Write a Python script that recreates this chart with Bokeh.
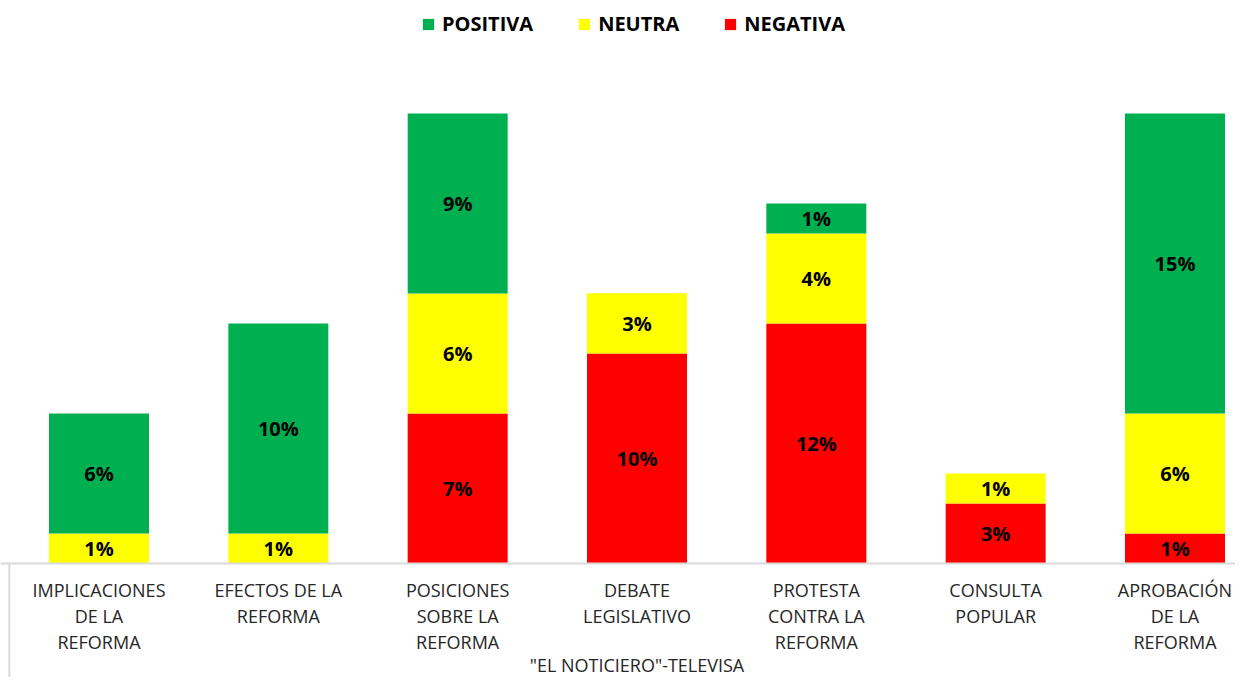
from bokeh.plotting import figure
from bokeh.models import ColumnDataSource, Range1d, Span, Legend, LegendItem
from bokeh.core.properties import value
from bokeh.embed import file_html
from bokeh.resources import INLINE

# ---- data (percent of items) ----
categorias = [
    "IMPLICACIONES\nDE LA\nREFORMA",
    "EFECTOS DE LA\nREFORMA",
    "POSICIONES\nSOBRE LA\nREFORMA",
    "DEBATE\nLEGISLATIVO",
    "PROTESTA\nCONTRA LA\nREFORMA",
    "CONSULTA\nPOPULAR",
    "APROBACIÓN\nDE LA\nREFORMA",
]
grupo = "\"EL NOTICIERO\"-TELEVISA"
negativa = [0, 0, 7.46, 10.45, 11.94, 2.99, 1.49]
neutra = [1.49, 1.49, 5.97, 2.99, 4.48, 1.49, 5.97]
positiva = [5.97, 10.45, 8.96, 0, 1.49, 0, 14.93]
series = ["NEGATIVA", "NEUTRA", "POSITIVA"]
colores = ["#FF0000", "#FFFF00", "#00B050"]

FONT = value("Open Sans")

xs = list(range(len(categorias)))
src = ColumnDataSource(dict(x=xs, NEGATIVA=negativa, NEUTRA=neutra, POSITIVA=positiva))

y0, y1 = -5.672, 28.01
p = figure(width=1235, height=677, output_backend="svg", toolbar_location=None,
           x_range=Range1d(-0.5493, 6.3374), y_range=Range1d(y0, y1),
           min_border=0)
p.axis.visible = False
p.grid.visible = False
p.outline_line_color = None
p.background_fill_color = "white"

rends = p.vbar_stack(series, x="x", width=0.5576, color=colores, line_color=None, source=src)

# data labels centred in each segment
lx, ly, lt = [], [], []
base = [0.0] * len(xs)
for vals in (negativa, neutra, positiva):
    for i, v in enumerate(vals):
        if v > 0:
            lx.append(xs[i])
            ly.append(base[i] + v / 2)
            lt.append(f"{round(v)}%")
        base[i] += v
p.text(x=lx, y=ly, text=lt, text_align="center", text_baseline="middle",
       text_font=FONT, text_font_style="bold", text_font_size="20px", text_color="black")

# axis lines
p.add_layout(Span(location=0, dimension="width", line_color="#D9D9D9", line_width=2))
p.segment(x0=[-0.5], y0=[0], x1=[-0.5], y1=[y0], line_color="#D9D9D9", line_width=2)

# category labels
p.text(x=xs, y=[0] * len(xs), text=categorias, text_align="center", text_baseline="top",
       y_offset=15, text_line_height=1.08, text_font=FONT, text_font_size="18px",
       text_color="#262626")
# group label
p.text(x=[3], y=[0], text=[grupo], text_align="center", text_baseline="middle",
       y_offset=102, text_font=FONT, text_font_size="18px", text_color="#262626")

legend = Legend(
    items=[LegendItem(label=s, renderers=[r]) for s, r in reversed(list(zip(series, rends)))],
    orientation="horizontal", location=(421, 640),
    glyph_width=14, glyph_height=14, label_standoff=7, spacing=44,
    padding=0, margin=0, border_line_color=None, background_fill_alpha=0,
    label_text_font="Open Sans", label_text_font_style="bold", label_text_font_size="20px",
    label_text_color="black",
)
p.add_layout(legend)

open("out.html", "w").write(file_html(p, INLINE))
